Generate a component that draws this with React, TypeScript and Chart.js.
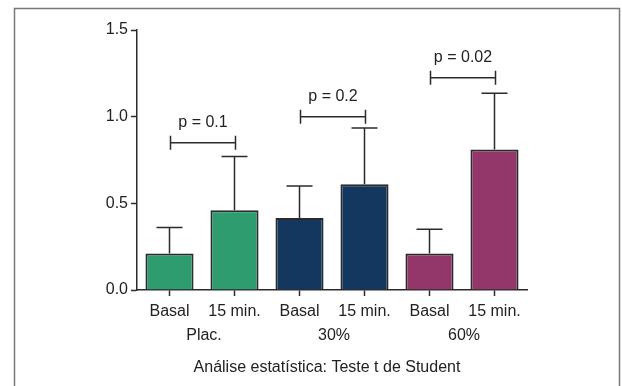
import React, { useEffect, useRef } from 'react';
import { Chart, registerables } from 'chart.js';

Chart.register(...registerables);

// ---- data ----
const categories = ['Basal', '15 min.', 'Basal', '15 min.', 'Basal', '15 min.'];
const groupLabels = ['Plac.', '30%', '60%'];
const meanValues = [0.21, 0.46, 0.415, 0.61, 0.21, 0.81];
const errorTops = [0.36, 0.77, 0.6, 0.935, 0.35, 1.135];
const barColors = ['#2e9c6e', '#2e9c6e', '#14375f', '#14375f', '#93366a', '#93366a'];
const pValueLabels = ['p = 0.1', 'p = 0.2', 'p = 0.02'];
const bracketLevels = [0.85, 1.0, 1.225];
const yTicks = [0, 0.5, 1.0, 1.5];
const footerText = 'Análise estatística: Teste t de Student';

const FONT = '"Liberation Sans", Arial, sans-serif';
const FS = 16;
const INK = '#2b2b2b';
const TEXT = '#222222';

const decorPlugin = {
  id: 'decor',
  afterDatasetsDraw(chart: any) {
    const ctx = chart.ctx;
    const y = chart.scales.y;
    const meta = chart.getDatasetMeta(0);
    ctx.save();
    ctx.strokeStyle = INK;
    ctx.lineWidth = 1.5;
    // error bars (upper only)
    meanValues.forEach((m, i) => {
      const cx = meta.data[i].x;
      const yb = y.getPixelForValue(m);
      const yt = y.getPixelForValue(errorTops[i]);
      ctx.beginPath();
      ctx.moveTo(cx, yb);
      ctx.lineTo(cx, yt);
      ctx.moveTo(cx - 13, yt);
      ctx.lineTo(cx + 13, yt);
      ctx.stroke();
    });
    // significance brackets
    ctx.fillStyle = TEXT;
    ctx.font = `${FS}px ${FONT}`;
    ctx.textAlign = 'center';
    ctx.textBaseline = 'alphabetic';
    pValueLabels.forEach((lbl, g) => {
      const x1 = meta.data[2 * g].x + 1;
      const x2 = meta.data[2 * g + 1].x + 1;
      const yb = y.getPixelForValue(bracketLevels[g]);
      ctx.beginPath();
      ctx.moveTo(x1, yb);
      ctx.lineTo(x2, yb);
      ctx.moveTo(x1, yb - 7);
      ctx.lineTo(x1, yb + 7);
      ctx.moveTo(x2, yb - 7);
      ctx.lineTo(x2, yb + 7);
      ctx.stroke();
      ctx.fillText(lbl, (x1 + x2) / 2, yb - 16);
    });
    ctx.restore();
  },
  afterDraw(chart: any) {
    const ctx = chart.ctx;
    const meta = chart.getDatasetMeta(0);
    ctx.save();
    // frame
    ctx.strokeStyle = '#777777';
    ctx.lineWidth = 1.5;
    ctx.strokeRect(14.5, 8.5, 605, 400);
    // group labels
    ctx.fillStyle = TEXT;
    ctx.font = `${FS}px ${FONT}`;
    ctx.textAlign = 'center';
    ctx.textBaseline = 'alphabetic';
    groupLabels.forEach((lbl, g) => {
      const cx = (meta.data[2 * g].x + meta.data[2 * g + 1].x) / 2;
      ctx.fillText(lbl, cx + 2, 340);
    });
    ctx.fillText(footerText, 327, 372);
    ctx.restore();
  },
};

export default function App() {
  const ref = useRef<HTMLCanvasElement | null>(null);
  useEffect(() => {
    document.body.style.margin = '0';
    const canvas = ref.current;
    if (!canvas) return;
    const chart = new Chart(canvas, {
      type: 'bar',
      data: {
        labels: categories,
        datasets: [
          {
            data: meanValues,
            backgroundColor: barColors,
            borderColor: INK,
            borderWidth: 2,
            barPercentage: 0.74,
            categoryPercentage: 1,
          },
        ],
      },
      options: {
        responsive: false,
        animation: false,
        devicePixelRatio: 1,
        layout: { padding: { top: 30, right: 95, bottom: 0, left: 0 } },
        plugins: { legend: { display: false }, tooltip: { enabled: false } },
        scales: {
          x: {
            offset: true,
            afterFit(scale: any) {
              scale.height = 96;
            },
            grid: {
              offset: false,
              drawOnChartArea: false,
              drawTicks: true,
              tickLength: 6,
              tickColor: INK,
              tickWidth: 1.5,
            },
            border: { display: true, color: INK, width: 1.5 },
            ticks: {
              color: TEXT,
              font: { family: FONT, size: FS },
              padding: 6,
              maxRotation: 0,
              autoSkip: false,
            },
          },
          y: {
            min: 0,
            max: 1.5,
            afterFit(scale: any) {
              scale.width = 137;
            },
            afterBuildTicks(scale: any) {
              scale.ticks = yTicks.map((v) => ({ value: v }));
            },
            grid: {
              drawOnChartArea: false,
              drawTicks: true,
              tickLength: 6,
              tickColor: INK,
              tickWidth: 1.5,
            },
            border: { display: true, color: INK, width: 1.5 },
            ticks: {
              color: TEXT,
              font: { family: FONT, size: FS },
              padding: 3,
              callback: (v: any) => Number(v).toFixed(1),
            },
          },
        },
      },
      plugins: [decorPlugin],
    });
    return () => chart.destroy();
  }, []);
  return (
    <div style={{ position: 'absolute', left: 0, top: 0, width: 622, height: 386, background: '#fff' }}>
      <canvas ref={ref} width={622} height={386} style={{ display: 'block' }} />
    </div>
  );
}
